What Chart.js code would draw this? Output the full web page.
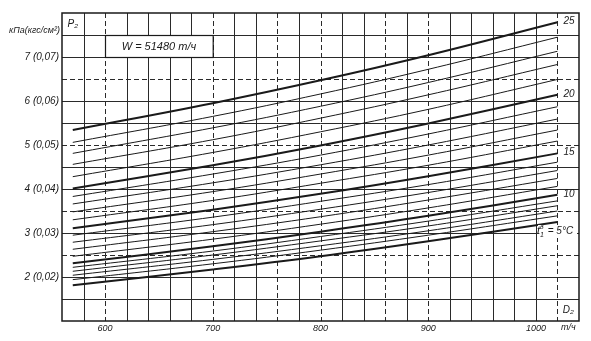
<!DOCTYPE html>
<html>
<head>
<meta charset="utf-8">
<script src="https://cdn.jsdelivr.net/npm/chart.js@4.4.1/dist/chart.umd.min.js"></script>
<style>
  html, body { margin: 0; padding: 0; background: #fff; }
  #wrap { width: 591px; height: 341px; position: relative; }
</style>
</head>
<body>
<div id="wrap"><canvas id="nomo"></canvas></div>
<script>
/* Номограмма P2 = f(D2) при W = 51480 т/ч, кривые по tв1 */

// расход пара D2, т/ч
const D2 = [570, 700, 800, 900, 1020];

// давление P2, кПа, для каждой температуры tв1
const p5  = [1.81, 2.17, 2.47, 2.81, 3.25];
const p6  = [1.94, 2.30, 2.61, 2.95, 3.39];
const p7  = [2.04, 2.40, 2.71, 3.05, 3.50];
const p8  = [2.13, 2.50, 2.82, 3.16, 3.62];
const p9  = [2.22, 2.59, 2.92, 3.27, 3.73];
const p10 = [2.31, 2.70, 3.03, 3.39, 3.87];
const p11 = [2.47, 2.86, 3.20, 3.57, 4.06];
const p12 = [2.63, 3.03, 3.37, 3.75, 4.24];
const p13 = [2.79, 3.19, 3.54, 3.92, 4.42];
const p14 = [2.95, 3.36, 3.72, 4.10, 4.61];
const p15 = [3.11, 3.53, 3.89, 4.29, 4.81];
const p16 = [3.30, 3.74, 4.13, 4.54, 5.09];
const p17 = [3.48, 3.94, 4.34, 4.77, 5.34];
const p18 = [3.66, 4.14, 4.55, 5.00, 5.59];
const p19 = [3.83, 4.34, 4.77, 5.25, 5.87];
const p20 = [4.01, 4.54, 4.99, 5.49, 6.14];
const p21 = [4.28, 4.83, 5.30, 5.81, 6.49];
const p22 = [4.56, 5.12, 5.61, 6.14, 6.83];
const p23 = [4.81, 5.39, 5.88, 6.42, 7.13];
const p24 = [5.06, 5.65, 6.16, 6.72, 7.45];
const p25 = [5.34, 5.95, 6.47, 7.04, 7.79];

const TEMPS = [5, 6, 7, 8, 9, 10, 11, 12, 13, 14, 15, 16, 17, 18, 19, 20, 21, 22, 23, 24, 25];
const CURVES = [p5, p6, p7, p8, p9, p10, p11, p12, p13, p14, p15, p16, p17, p18, p19, p20, p21, p22, p23, p24, p25];

const Y_LABELS = { 2: '2 (0,02)', 3: '3 (0,03)', 4: '4 (0,04)', 5: '5 (0,05)', 6: '6 (0,06)', 7: '7 (0,07)' };
const X_LABELS = [600, 700, 800, 900, 1000];
const END_LABELS = [10, 15, 20, 25];

const DASHED_X = [600, 700, 760, 800, 860, 900, 1020];
const DASHED_Y = [2.5, 3.5, 5, 6.5];

const FONT = '"Liberation Sans Narrow", "Liberation Sans", sans-serif';
const INK = '#1a1a1a';

const datasets = CURVES.map((arr, i) => {
  const t = TEMPS[i];
  return {
    label: String(t),
    data: D2.map((x, k) => ({ x, y: arr[k] })),
    borderColor: INK,
    borderWidth: t % 5 === 0 ? 2 : 1,
    pointRadius: 0,
    tension: 0.4,
    fill: false,
  };
});

const nomoDecor = {
  id: 'nomoDecor',
  beforeDatasetsDraw(chart) {
    const { ctx, chartArea: a } = chart;
    const xs = chart.scales.x;
    const ys = chart.scales.y;
    ctx.save();
    ctx.strokeStyle = '#2a2a2a';
    ctx.lineWidth = 1;

    // сетка
    xs.ticks.forEach((t) => {
      if (t.value <= xs.min || t.value >= xs.max) return;
      const px = Math.round(xs.getPixelForValue(t.value)) + 0.5;
      ctx.setLineDash(DASHED_X.includes(t.value) ? [5, 3] : []);
      ctx.beginPath(); ctx.moveTo(px, a.top); ctx.lineTo(px, a.bottom); ctx.stroke();
    });
    ys.ticks.forEach((t) => {
      if (t.value <= ys.min || t.value >= ys.max) return;
      const py = Math.round(ys.getPixelForValue(t.value)) + 0.5;
      ctx.setLineDash(DASHED_Y.includes(t.value) ? [5, 3] : []);
      ctx.beginPath(); ctx.moveTo(a.left, py); ctx.lineTo(a.right, py); ctx.stroke();
    });
    ctx.setLineDash([]);

    // рамка W
    const bx1 = xs.getPixelForValue(600), bx2 = xs.getPixelForValue(700);
    const by1 = ys.getPixelForValue(7.5), by2 = ys.getPixelForValue(7.0);
    ctx.fillStyle = '#fff';
    ctx.fillRect(bx1, by1, bx2 - bx1, by2 - by1);
    ctx.lineWidth = 1.2;
    ctx.strokeStyle = INK;
    ctx.strokeRect(Math.round(bx1) + 0.5, Math.round(by1) + 0.5, bx2 - bx1, by2 - by1);
    ctx.fillStyle = INK;
    ctx.font = 'italic 11px ' + FONT;
    ctx.textAlign = 'center';
    ctx.textBaseline = 'middle';
    ctx.fillText('W = 51480 т/ч', (bx1 + bx2) / 2, (by1 + by2) / 2 + 1);

    // подписи осей в клетках
    ctx.font = 'italic 10px ' + FONT;
    ctx.fillText('P₂', (xs.getPixelForValue(560) + xs.getPixelForValue(580)) / 2, (ys.getPixelForValue(8) + ys.getPixelForValue(7.5)) / 2);
    ctx.fillText('D₂', (xs.getPixelForValue(1020) + xs.getPixelForValue(1040)) / 2, (ys.getPixelForValue(1.5) + ys.getPixelForValue(1)) / 2);
    ctx.restore();
  },
  afterDatasetsDraw(chart) {
    const { ctx, chartArea: a } = chart;
    const xs = chart.scales.x;
    const ys = chart.scales.y;
    ctx.save();
    ctx.strokeStyle = INK;
    ctx.lineWidth = 1.5;
    ctx.strokeRect(a.left, a.top, a.right - a.left, a.bottom - a.top);

    ctx.fillStyle = INK;
    ctx.font = 'italic 10px ' + FONT;
    ctx.textBaseline = 'middle';
    ctx.textAlign = 'left';
    END_LABELS.forEach((t) => {
      const meta = chart.getDatasetMeta(TEMPS.indexOf(t));
      const last = meta.data[meta.data.length - 1];
      ctx.fillText(String(t), last.x + 6, last.y - 1);
    });

    // tв1 = 5°C
    const m5 = chart.getDatasetMeta(0);
    const e5 = m5.data[m5.data.length - 1];
    const ty = e5.y + 9;
    ctx.fillStyle = '#fff';
    ctx.fillRect(xs.getPixelForValue(1000) + 2, ty - 6, a.right - xs.getPixelForValue(1000) - 4, 13);
    ctx.fillStyle = INK;
    let tx = xs.getPixelForValue(1000) + 1;
    ctx.font = 'italic 11px ' + FONT;
    ctx.fillText('t', tx, ty);
    tx += ctx.measureText('t').width;
    ctx.font = 'italic 7px ' + FONT;
    ctx.fillText('в', tx, ty - 4);
    ctx.fillText('1', tx, ty + 4);
    tx += 5;
    ctx.font = 'italic 10px ' + FONT;
    ctx.fillText(' = 5°C', tx, ty);

    // единицы
    ctx.font = 'italic 9px ' + FONT;
    ctx.textAlign = 'right';
    ctx.fillText('кПа(кгс/см²)', a.left - 2, ys.getPixelForValue(7.5) - 5);
    ctx.textAlign = 'center';
    ctx.textBaseline = 'top';
    ctx.fillText('т/ч', xs.getPixelForValue(1030), a.bottom + 2);
    ctx.restore();
  },
};

new Chart(document.getElementById('nomo').getContext('2d'), {
  type: 'line',
  data: { datasets },
  options: {
    responsive: true,
    maintainAspectRatio: false,
    animation: false,
    layout: { padding: { top: 13, right: 12, left: 0, bottom: 0 } },
    plugins: { legend: { display: false }, tooltip: { enabled: false } },
    scales: {
      x: {
        type: 'linear',
        min: 560,
        max: 1040,
        grid: { display: false, drawTicks: false, tickLength: 0 },
        border: { display: false },
        ticks: {
          stepSize: 20,
          autoSkip: false,
          maxRotation: 0,
          padding: 2,
          color: INK,
          font: { family: FONT, size: 9, style: 'italic' },
          callback: (v) => (X_LABELS.includes(v) ? String(v) : ''),
        },
        afterFit(scale) { scale.height = 20; },
      },
      y: {
        min: 1,
        max: 8,
        grid: { display: false, drawTicks: false, tickLength: 0 },
        border: { display: false },
        ticks: {
          stepSize: 0.5,
          autoSkip: false,
          padding: 3,
          color: INK,
          font: { family: FONT, size: 10, style: 'italic' },
          callback: (v) => Y_LABELS[v] || '',
        },
        afterFit(scale) { scale.width = 62; },
      },
    },
  },
  plugins: [nomoDecor],
});
</script>
</body>
</html>
